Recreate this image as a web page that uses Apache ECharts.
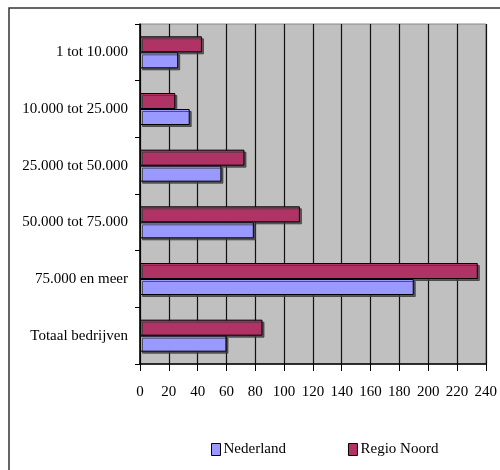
<!DOCTYPE html>
<html>
<head>
<meta charset="utf-8">
<script src="https://cdn.jsdelivr.net/npm/echarts@6/dist/echarts.min.js"></script>
<style>
  html, body { margin: 0; padding: 0; background: #fff; }
</style>
</head>
<body>
<div id="myChart" style="width: 500px; height: 470px;"></div>
<script>
var categories = ['1 tot 10.000', '10.000 tot 25.000', '25.000 tot 50.000', '50.000 tot 75.000', '75.000 en meer', 'Totaal bedrijven'];
var nederland = [26.5, 34.5, 56.5, 79, 190, 60];
var regioNoord = [43, 24.5, 72.5, 111, 234.5, 85];
var xTicks = [0, 240, 20];  // min, max, interval

var font = 'Liberation Serif';
var myChart = echarts.init(document.getElementById('myChart'));

var barStyle = function (color) {
    return {
        color: color,
        borderColor: '#000',
        borderWidth: 1,
        shadowColor: 'rgba(60,60,60,0.8)',
        shadowOffsetX: 2,
        shadowOffsetY: 2,
        shadowBlur: 0
    };
};

var option = {
    animation: false,
    textStyle: { fontFamily: font },
    graphic: [{
        // frame round the chart
        type: 'rect',
        shape: { x: 9, y: 8, width: 600, height: 600 },
        style: { fill: null, stroke: '#333', lineWidth: 1.5 },
        silent: true
    }],
    grid: {
        left: 140,
        right: 12,
        top: 24,
        bottom: 106,
        show: true,
        backgroundColor: '#c0c0c0',
        borderColor: '#888',
        borderWidth: 1
    },
    legend: {
        left: 206,
        top: 437,
        icon: 'rect',
        itemWidth: 9,
        itemHeight: 12,
        itemGap: 62,
        data: ['Nederland', 'Regio Noord'],
        itemStyle: { borderColor: '#000', borderWidth: 1, shadowBlur: 0, shadowOffsetX: 0, shadowOffsetY: 0 },
        textStyle: { fontFamily: font, fontSize: 15, color: '#000', padding: [0, 0, 0, -2] }
    },
    xAxis: {
        type: 'value',
        min: xTicks[0],
        max: xTicks[1],
        interval: xTicks[2],
        axisLine: { show: true, lineStyle: { color: '#000', width: 1.5 } },
        axisTick: { show: true, length: 7, lineStyle: { color: '#000' } },
        axisLabel: { margin: 21, fontFamily: font, fontSize: 15, color: '#000' },
        splitLine: { show: true, lineStyle: { color: '#111', width: 1.2 } }
    },
    yAxis: {
        type: 'category',
        inverse: true,
        data: categories,
        axisLine: { show: true, lineStyle: { color: '#000', width: 1.5 } },
        axisTick: { show: true, length: 5, lineStyle: { color: '#000' } },
        axisLabel: { margin: 12, fontFamily: font, fontSize: 15, color: '#000' },
        splitLine: { show: false }
    },
    series: [{
        name: 'Regio Noord',
        type: 'bar',
        data: regioNoord,
        barWidth: 16,
        barGap: '0%',
        itemStyle: barStyle('#b03366')
    }, {
        name: 'Nederland',
        type: 'bar',
        data: nederland,
        barWidth: 16,
        barGap: '0%',
        itemStyle: barStyle('#9999ff')
    }]
};

myChart.setOption(option);
</script>
</body>
</html>
